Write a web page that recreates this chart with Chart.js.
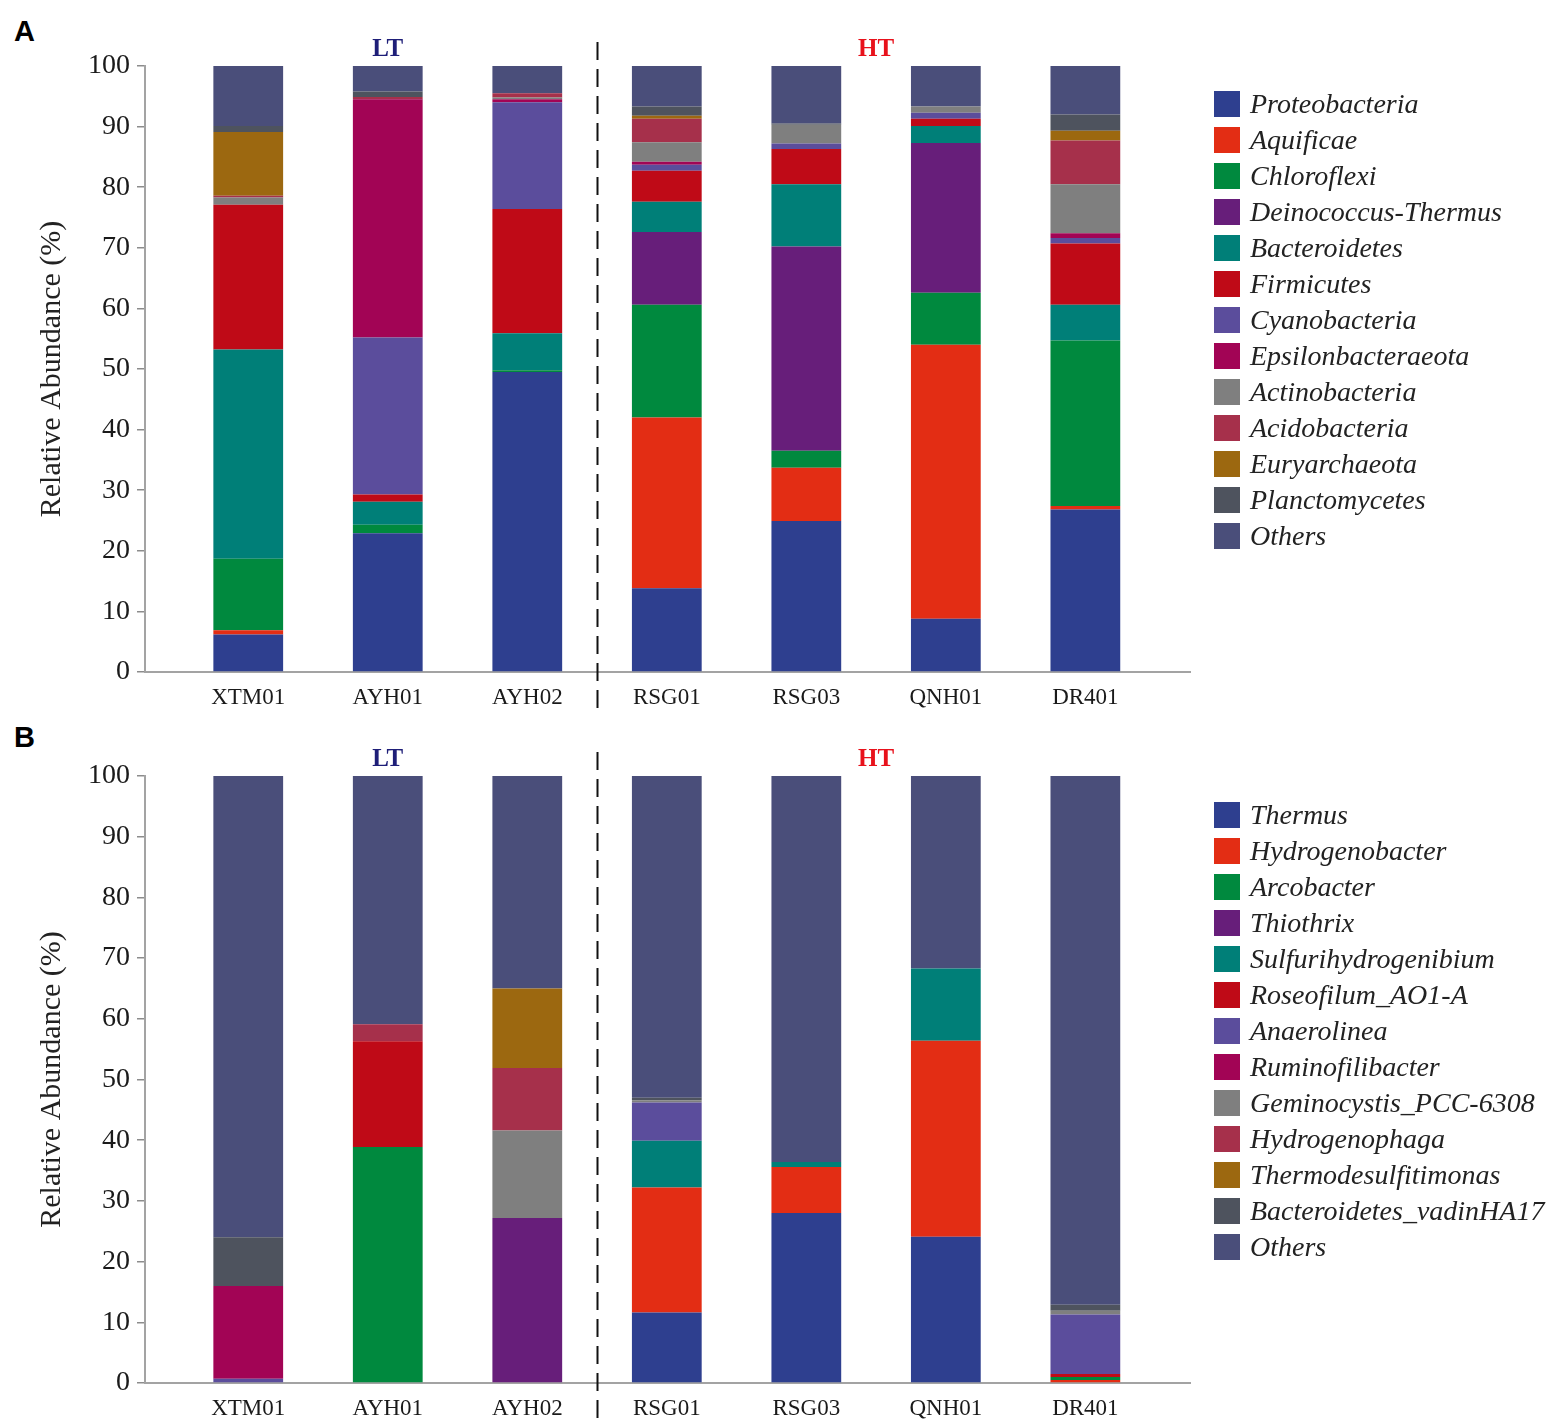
<!DOCTYPE html>
<html>
<head>
<meta charset="utf-8">
<script src="https://cdn.jsdelivr.net/npm/chart.js@4.4.1/dist/chart.umd.min.js"></script>
<style>
  body { margin: 0; background: #fff; width: 1562px; height: 1421px; position: relative; overflow: hidden; }
  .panel { position: absolute; left: 0; width: 1562px; }
  .tag { position: absolute; left: 14px; font: bold 29px "Liberation Sans", Arial, sans-serif; line-height: 29px; color: #000; }
  .legend { position: absolute; left: 1214px; }
  .legend div { height: 36px; display: flex; align-items: center; font: italic 28px "Liberation Serif", serif; color: #222; white-space: nowrap; }
  .legend span { display: inline-block; width: 26px; height: 26px; margin-right: 10px; flex: none; }
</style>
</head>
<body>
<div class="tag" style="top:17px">A</div>
<div class="tag" style="top:723px">B</div>
<div class="panel" style="top:0;height:712px"><canvas id="chartA" width="1562" height="712"></canvas></div>
<div class="panel" style="top:712px;height:709px"><canvas id="chartB" width="1562" height="709"></canvas></div>
<div class="legend" id="legendA" style="top:86px"></div>
<div class="legend" id="legendB" style="top:797px"></div>

<script>
const samples = ['XTM01', 'AYH01', 'AYH02', 'RSG01', 'RSG03', 'QNH01', 'DR401'];
const groups = ['LT', 'HT'];
const groupSizes = [3, 4];
const yTicks = [0, 10, 20, 30, 40, 50, 60, 70, 80, 90, 100];

// panel A - phylum level (%), one row per phylum, one value per sample
const phyla = ['Proteobacteria', 'Aquificae', 'Chloroflexi', 'Deinococcus-Thermus', 'Bacteroidetes',
  'Firmicutes', 'Cyanobacteria', 'Epsilonbacteraeota', 'Actinobacteria', 'Acidobacteria',
  'Euryarchaeota', 'Planctomycetes', 'Others'];
const phylaValues = [
  [6.2, 22.9, 49.5, 13.8, 24.9, 8.8, 26.8],
  [0.7, 0, 0, 28.2, 8.8, 45.2, 0.6],
  [11.8, 1.4, 0.3, 18.6, 2.8, 8.6, 27.3],
  [0, 0, 0, 12.0, 33.7, 24.7, 0],
  [34.5, 3.8, 6.1, 5.0, 10.3, 2.8, 5.9],
  [23.9, 1.2, 20.5, 5.1, 5.8, 1.2, 10.1],
  [0, 25.9, 17.6, 1.0, 0.9, 1.0, 0.9],
  [0, 39.3, 0.5, 0.5, 0, 0, 0.8],
  [1.2, 0, 0.3, 3.2, 3.1, 1.0, 8.1],
  [0.3, 0.4, 0.7, 3.9, 0, 0, 7.2],
  [10.5, 0, 0, 0.5, 0, 0, 1.6],
  [1.0, 0.9, 0, 1.5, 0.2, 0, 2.7],
  [9.9, 4.2, 4.5, 6.7, 9.5, 6.7, 8.0]
];

// panel B - genus level (%)
const genera = ['Thermus', 'Hydrogenobacter', 'Arcobacter', 'Thiothrix', 'Sulfurihydrogenibium',
  'Roseofilum_AO1-A', 'Anaerolinea', 'Ruminofilibacter', 'Geminocystis_PCC-6308', 'Hydrogenophaga',
  'Thermodesulfitimonas', 'Bacteroidetes_vadinHA17', 'Others'];
const generaValues = [
  [0, 0, 0, 11.6, 28.0, 24.1, 0],
  [0, 0, 0, 20.6, 7.6, 32.3, 0.5],
  [0, 38.9, 0, 0, 0, 0, 0.5],
  [0, 0, 27.2, 0, 0, 0, 0],
  [0, 0, 0, 7.7, 0.8, 11.9, 0],
  [0, 17.4, 0, 0, 0, 0, 0.5],
  [0.7, 0, 0, 6.3, 0, 0, 9.8],
  [15.3, 0, 0, 0, 0, 0, 0],
  [0, 0, 14.4, 0.4, 0, 0, 0.6],
  [0, 2.8, 10.3, 0, 0, 0, 0],
  [0, 0, 13.1, 0, 0, 0, 0],
  [8.0, 0, 0, 0.4, 0, 0, 1.0],
  [76.0, 40.9, 35.0, 53.0, 63.6, 31.7, 87.1]
];

const palette = ['#2e3f8f', '#e32d14', '#00893e', '#671e7a', '#007f78', '#bf0a17', '#5b4d9c',
  '#a20455', '#7f7f7f', '#a6304b', '#9c6810', '#4e535e', '#4a4e7a'];
const groupColors = ['#1e1e78', '#e8111b'];

const serif = '"Liberation Serif", "Times New Roman", serif';

// LT / HT labels and the dashed separator, placed on the x scale
const groupPlugin = {
  id: 'groups',
  afterDraw(chart) {
    const { ctx, chartArea } = chart;
    const x = chart.scales.x;
    ctx.save();
    let start = 0;
    groups.forEach((g, k) => {
      const end = start + groupSizes[k] - 1;
      ctx.font = 'bold 25px ' + serif;
      ctx.fillStyle = groupColors[k];
      ctx.textAlign = 'center';
      ctx.textBaseline = 'middle';
      ctx.fillText(g, x.getPixelForValue((start + end) / 2), chartArea.top - 16);
      if (k > 0) {
        const bx = Math.round(x.getPixelForValue(start - 0.5)) + 0.5;
        ctx.strokeStyle = '#111';
        ctx.lineWidth = 2;
        ctx.setLineDash([18, 9]);
        ctx.beginPath();
        ctx.moveTo(bx, chartArea.top - 24);
        ctx.lineTo(bx, chart.height);
        ctx.stroke();
      }
      start = end + 1;
    });
    ctx.restore();
  }
};

function makeChart(id, names, values, padTop, axisHeight) {
  const datasets = names.map((n, k) => ({
    label: n,
    data: values[k].map((v, i) => ({ x: i, y: v })),
    backgroundColor: palette[k],
    borderWidth: 0,
    barPercentage: 0.5,
    categoryPercentage: 1
  }));
  return new Chart(document.getElementById(id), {
    type: 'bar',
    data: { datasets },
    plugins: [groupPlugin],
    options: {
      responsive: false,
      animation: false,
      layout: { padding: { top: padTop, left: 34, right: 372, bottom: 0 } },
      plugins: { legend: { display: false }, tooltip: { enabled: false } },
      scales: {
        x: {
          type: 'linear',
          stacked: true,
          offset: false,
          min: -0.74,
          max: samples.length - 1 + 0.75,
          afterBuildTicks: s => { s.ticks = samples.map((_, i) => ({ value: i })); },
          afterFit: s => { s.height = axisHeight; },
          grid: { display: false },
          border: { display: true, color: '#a3a3a3', width: 2 },
          ticks: {
            callback: v => samples[v],
            font: { family: serif, size: 23 },
            color: '#1a1a1a',
            padding: 4,
            maxRotation: 0,
            autoSkip: false
          }
        },
        y: {
          stacked: true,
          min: 0,
          max: 100,
          afterBuildTicks: s => { s.ticks = yTicks.map(v => ({ value: v })); },
          afterFit: s => { s.width = 145 - 34; },
          grid: { drawOnChartArea: false, tickLength: 8, color: '#8c8c8c', lineWidth: 1.5 },
          border: { display: true, color: '#a3a3a3', width: 2 },
          ticks: {
            font: { family: serif, size: 28 },
            color: '#1a1a1a',
            padding: 7
          },
          title: {
            display: true,
            text: 'Relative Abundance (%)',
            font: { family: serif, size: 30 },
            color: '#222',
            padding: { top: 0, bottom: 0 }
          }
        }
      }
    }
  });
}

function makeLegend(id, names) {
  const box = document.getElementById(id);
  names.forEach((n, k) => {
    const row = document.createElement('div');
    const sw = document.createElement('span');
    sw.style.background = palette[k];
    row.appendChild(sw);
    row.appendChild(document.createTextNode(n));
    box.appendChild(row);
  });
}

makeChart('chartA', phyla, phylaValues, 66, 40);
makeChart('chartB', genera, generaValues, 64, 38);
makeLegend('legendA', phyla);
makeLegend('legendB', genera);
</script>
</body>
</html>
